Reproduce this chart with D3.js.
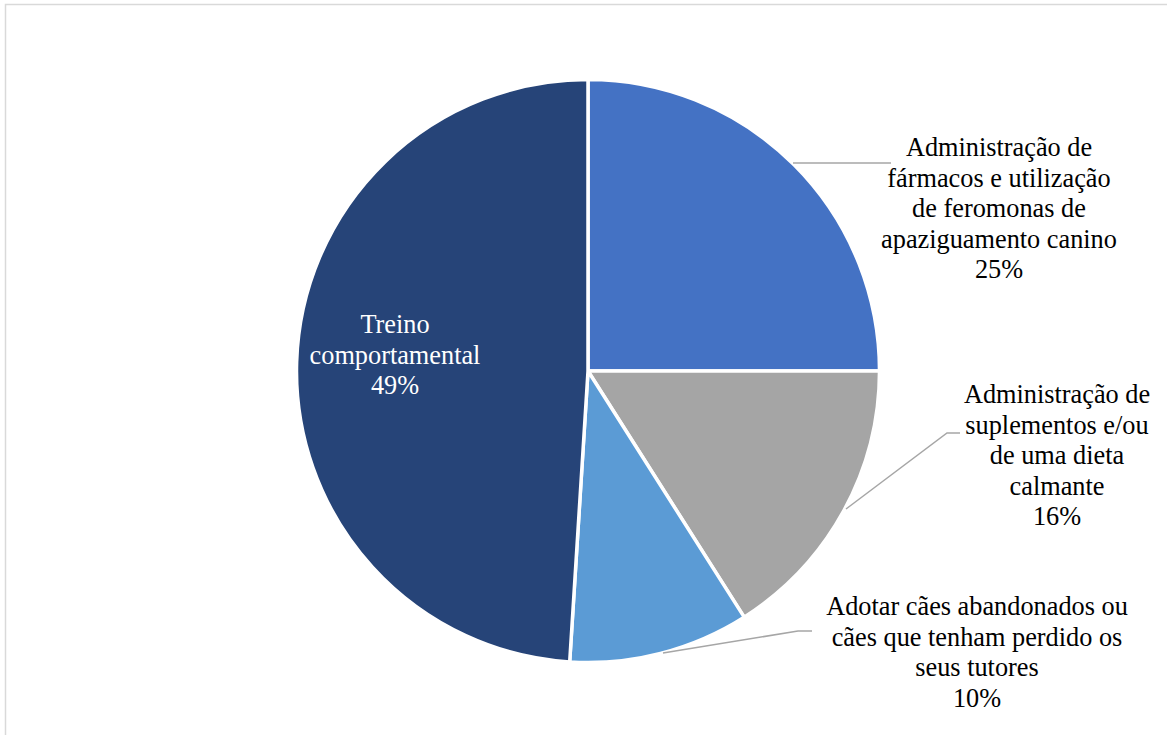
<!DOCTYPE html>
<html>
<head>
<meta charset="utf-8">
<script src="https://cdn.jsdelivr.net/npm/d3@7"></script>
<style>
  html, body { margin: 0; padding: 0; background: #fff; }
  svg { display: block; }
  .lbl { font-family: "Liberation Serif", "Times New Roman", serif; font-size: 26.3px; }
</style>
</head>
<body>
<svg id="chart" width="1167" height="735"></svg>
<script>
// Slices, clockwise from 12 o'clock
const categories = [
  "Administração de fármacos e utilização de feromonas de apaziguamento canino",
  "Administração de suplementos e/ou de uma dieta calmante",
  "Adotar cães abandonados ou cães que tenham perdido os seus tutores",
  "Treino comportamental"
];
const values = [25, 16, 10, 49];
const labelLines = [
  ["Administração de", "fármacos e utilização", "de feromonas de", "apaziguamento canino"],
  ["Administração de", "suplementos e/ou", "de uma dieta", "calmante"],
  ["Adotar cães abandonados ou", "cães que tenham perdido os", "seus tutores"],
  ["Treino", "comportamental"]
];
const colors = ["#4472C4", "#A5A5A5", "#5B9BD5", "#264478"];

const svg = d3.select("#chart");
const W = 1167, H = 735;

// chart area frame
svg.append("rect")
  .attr("x", 5.5).attr("y", 4.5)
  .attr("width", W + 20).attr("height", H + 20)
  .attr("fill", "#fff")
  .attr("stroke", "#d9d9d9")
  .attr("stroke-width", 1.5);

const cx = 588, cy = 371, R = 291.5;
const data = categories.map((c, i) => ({ name: c, value: values[i], lines: labelLines[i], color: colors[i] }));

const pie = d3.pie().value(d => d.value).sort(null).startAngle(0).endAngle(2 * Math.PI);
const arcs = pie(data);
const arc = d3.arc().innerRadius(0).outerRadius(R);

const g = svg.append("g").attr("transform", `translate(${cx},${cy})`);

g.selectAll("path.slice")
  .data(arcs)
  .join("path")
  .attr("class", "slice")
  .attr("d", arc)
  .attr("fill", d => d.data.color)
  .attr("stroke", "#fff")
  .attr("stroke-width", 3.5)
  .attr("stroke-linejoin", "miter");

// Label placement (centre x, first baseline y) and leader-line polylines
const total = d3.sum(values);
const labelLayout = [
  { x: 999,  y: 156, leader: [[793, 163], [891, 163]] },
  { x: 1057, y: 403, leader: [[846, 509], [947, 433], [960, 433]] },
  { x: 977,  y: 615, leader: [[663, 653], [798, 631], [812, 631]] },
  { x: 395,  y: 333, leader: null }
];

const lineH = 30.6;

labelLayout.forEach(L => {
  if (!L.leader) return;
  svg.append("path")
    .attr("d", d3.line()(L.leader))
    .attr("fill", "none")
    .attr("stroke", "#a6a6a6")
    .attr("stroke-width", 1.5);
});

// labels: name lines followed by the percentage
labelLayout.forEach((L, i) => {
  const d = data[i];
  const pct = Math.round(d.value / total * 100) + "%";
  const lines = d.lines.concat([pct]);
  const t = svg.append("text")
    .attr("class", "lbl")
    .attr("text-anchor", "middle")
    .attr("fill", i === 3 ? "#ffffff" : "#000000");
  lines.forEach((ln, k) => {
    t.append("tspan")
      .attr("x", L.x)
      .attr("y", L.y + k * lineH)
      .text(ln);
  });
});
</script>
</body>
</html>
